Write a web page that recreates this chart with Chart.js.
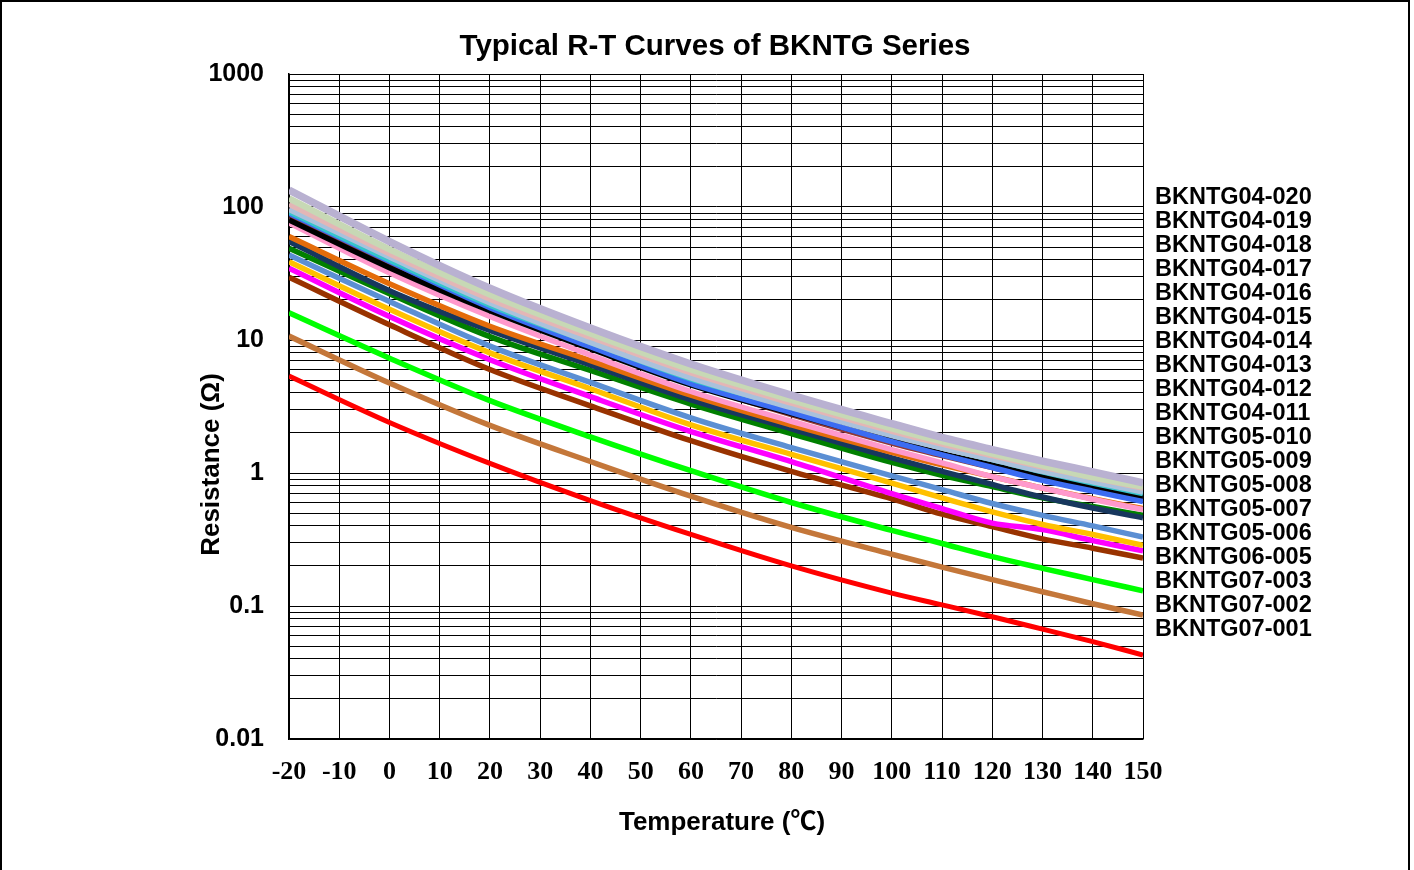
<!DOCTYPE html>
<html><head><meta charset="utf-8">
<script src="https://cdn.jsdelivr.net/npm/chart.js@4.4.0/dist/chart.umd.min.js"></script>
<style>html,body{margin:0;padding:0;background:#fff;overflow:hidden}#wrap{width:1414px;height:870px;position:relative}</style>
</head><body><div id="wrap"><canvas id="c"></canvas></div>
<script>
// ---------- data ----------
const temperatures = [-20, 0, 20, 40, 60, 80, 100, 110, 120, 130, 140, 150];

const r04_020 = [134, 55, 24.5, 12.3, 6.6, 3.85, 2.35, 1.85, 1.5, 1.23, 1.02, 0.845];
const r04_019 = [116, 48, 22, 11.2, 6.0, 3.55, 2.17, 1.73, 1.40, 1.14, 0.93, 0.79];
const r04_018 = [105, 44.5, 20.3, 10.5, 5.65, 3.35, 2.06, 1.65, 1.35, 1.11, 0.92, 0.77];
const r04_017 = [96, 42, 19, 9.6, 5.2, 3.1, 1.91, 1.54, 1.26, 1.03, 0.86, 0.72];
const r04_016 = [92, 40, 18.3, 9.6, 5.1, 3.15, 1.95, 1.55, 1.26, 1.02, 0.84, 0.70];
const r04_015 = [90, 39, 17.5, 8.9, 4.7, 2.85, 1.72, 1.37, 1.1, 0.88, 0.73, 0.61];
const r04_014 = [80, 35, 16.6, 8.6, 4.6, 2.8, 1.75, 1.4, 1.15, 0.95, 0.79, 0.66];
const r04_013 = [76, 32, 15, 7.7, 4.1, 2.45, 1.5, 1.19, 0.94, 0.77, 0.635, 0.53];
const r04_012 = [82, 36, 17.3, 8.7, 4.7, 2.75, 1.68, 1.35, 1.1, 0.9, 0.75, 0.62];
const r04_011 = [60, 26.5, 12.7, 7.0, 3.85, 2.3, 1.43, 1.15, 0.94, 0.77, 0.64, 0.54];
const r05_010 = [55, 23.5, 11.8, 6.5, 3.55, 2.15, 1.3, 1.03, 0.82, 0.66, 0.545, 0.46];
const r05_009 = [49, 22.3, 10.6, 5.9, 3.3, 1.98, 1.2, 0.96, 0.79, 0.65, 0.56, 0.48];
const r05_008 = [43.5, 19.5, 9.0, 4.8, 2.6, 1.55, 0.95, 0.75, 0.59, 0.48, 0.40, 0.33];
const r05_007 = [38.8, 17, 8.0, 4.3, 2.3, 1.38, 0.84, 0.65, 0.51, 0.41, 0.345, 0.286];
const r05_006 = [34.6, 15, 7.1, 3.75, 2.05, 1.22, 0.7, 0.54, 0.42, 0.375, 0.31, 0.26];
const r06_005 = [29.6, 13, 6.0, 3.2, 1.75, 1.03, 0.64, 0.49, 0.395, 0.32, 0.272, 0.229];
const r07_003 = [16, 7.3, 3.5, 1.87, 1.04, 0.6, 0.37, 0.295, 0.235, 0.192, 0.158, 0.13];
const r07_002 = [10.7, 4.75, 2.28, 1.22, 0.67, 0.39, 0.245, 0.196, 0.158, 0.128, 0.104, 0.0855];
const r07_001 = [5.36, 2.4, 1.18, 0.62, 0.345, 0.2, 0.125, 0.102, 0.083, 0.067, 0.054, 0.0428];

const seriesNames = ['BKNTG04-020','BKNTG04-019','BKNTG04-018','BKNTG04-017','BKNTG04-016',
  'BKNTG04-015','BKNTG04-014','BKNTG04-013','BKNTG04-012','BKNTG04-011','BKNTG05-010',
  'BKNTG05-009','BKNTG05-008','BKNTG05-007','BKNTG05-006','BKNTG06-005','BKNTG07-003',
  'BKNTG07-002','BKNTG07-001'];
const seriesValues = [r04_020, r04_019, r04_018, r04_017, r04_016, r04_015, r04_014, r04_013,
  r04_012, r04_011, r05_010, r05_009, r05_008, r05_007, r05_006, r06_005, r07_003, r07_002, r07_001];

const yMajorValues = [0.01, 0.1, 1, 10, 100, 1000];
const yTickLabels = ['0.01', '0.1', '1', '10', '100', '1000'];
const xTickValues = [-20, -10, 0, 10, 20, 30, 40, 50, 60, 70, 80, 90, 100, 110, 120, 130, 140, 150];

const chartTitle = 'Typical R-T Curves of BKNTG Series';
const xTitle = 'Temperature (\u2103)';
const yTitle = 'Resistance (\u03A9)';

// ---------- styles ----------
const seriesColors = ['#b9b1d1','#c7d8b5','#e3b6b6','#a9c1dc','#35c4cc','#3b6cf2','#000000',
  '#ff99cc','#953735','#e46c0a','#17375e','#008000','#5b8fd3','#ffc000','#ff00ff','#993300',
  '#00ff00','#c4773a','#ff0000'];
const seriesWidths = [7.5,6.5,5.5,5.5,5.5,5.5,5.5,5.5,5.5,5.5,5.5,5.5,5.5,5.5,5.5,5.5,5.5,5.5,5];

const SANS = '"Liberation Sans", Arial, "Noto Sans CJK SC", sans-serif';
const SERIF = '"Liberation Serif", "Times New Roman", serif';

const yGridValues = [];
yMajorValues.forEach((d, k) => {
  if (k === yMajorValues.length - 1) { yGridValues.push(d); return; }
  for (let m = 1; m <= 9; m++) yGridValues.push(Number((m * d).toPrecision(3)));
});

const datasets = seriesValues.map((vals, i) => ({
  label: seriesNames[i],
  data: temperatures.map((t, j) => ({ x: t, y: vals[j] })),
  borderColor: seriesColors[i],
  backgroundColor: seriesColors[i],
  borderWidth: seriesWidths[i],
  pointRadius: 0,
  fill: false,
  cubicInterpolationMode: 'monotone',
  borderCapStyle: 'butt'
}));

const overlay = {
  id: 'overlay',
  beforeDraw(chart) {
    const ctx = chart.ctx;
    ctx.save();
    ctx.fillStyle = '#fff';
    ctx.fillRect(0, 0, chart.width, chart.height);
    ctx.restore();
  },
  afterDraw(chart) {
    const ctx = chart.ctx, a = chart.chartArea;
    ctx.save();
    ctx.fillStyle = '#000';
    ctx.textBaseline = 'middle';
    ctx.textAlign = 'center';
    ctx.font = 'bold 29.5px ' + SANS;
    ctx.fillText(chartTitle, (a.left + a.right) / 2 - 1, a.top - 27);
    ctx.font = 'bold 26px ' + SANS;
    ctx.fillText(xTitle, (a.left + a.right) / 2 + 6, a.bottom + 84);
    ctx.save();
    ctx.translate(a.left - 77, (a.top + a.bottom) / 2 + 58);
    ctx.rotate(-Math.PI / 2);
    ctx.fillText(yTitle, 0, 0);
    ctx.restore();
    ctx.textAlign = 'left';
    ctx.font = 'bold 23.5px ' + SANS;
    seriesNames.forEach((n, i) => ctx.fillText(n, a.right + 12, a.top + 124 + i * 24));
    ctx.strokeStyle = '#000';
    ctx.lineWidth = 2;
    ctx.beginPath();
    ctx.moveTo(1, chart.height); ctx.lineTo(1, 1); ctx.lineTo(chart.width - 5, 1); ctx.lineTo(chart.width - 5, chart.height);
    ctx.stroke();
    ctx.restore();
  }
};

new Chart(document.getElementById('c'), {
  type: 'line',
  data: { datasets },
  plugins: [overlay],
  options: {
    responsive: true,
    maintainAspectRatio: false,
    animation: false,
    devicePixelRatio: 1,
    layout: { padding: { top: 74, right: 271, left: 0, bottom: 0 } },
    plugins: { legend: { display: false }, title: { display: false }, tooltip: { enabled: false } },
    scales: {
      x: {
        type: 'linear', min: -20, max: 150,
        afterFit(s) { s.height = 131; },
        afterBuildTicks(s) { s.ticks = xTickValues.map(v => ({ value: v })); },
        ticks: { autoSkip: false, maxRotation: 0, padding: 18, color: '#000',
          font: { family: SERIF, size: 26, weight: 'bold' }, callback: v => String(v) },
        grid: { color: '#000', lineWidth: 1, drawTicks: false },
        border: { color: '#000', width: 1.5 }
      },
      y: {
        type: 'logarithmic', min: 0.01, max: 1000,
        afterFit(s) { s.width = 289; },
        afterBuildTicks(s) { s.ticks = yGridValues.map(v => ({ value: v })); },
        ticks: { autoSkip: false, padding: 25, color: '#000',
          font: { family: SANS, size: 25, weight: 'bold' },
          callback: v => { const i = yMajorValues.findIndex(m => Math.abs(m - v) < m * 1e-6); return i >= 0 ? yTickLabels[i] : ''; } },
        grid: { color: '#000', lineWidth: 1, drawTicks: false },
        border: { color: '#000', width: 1.5 }
      }
    }
  }
});
</script></body></html>
